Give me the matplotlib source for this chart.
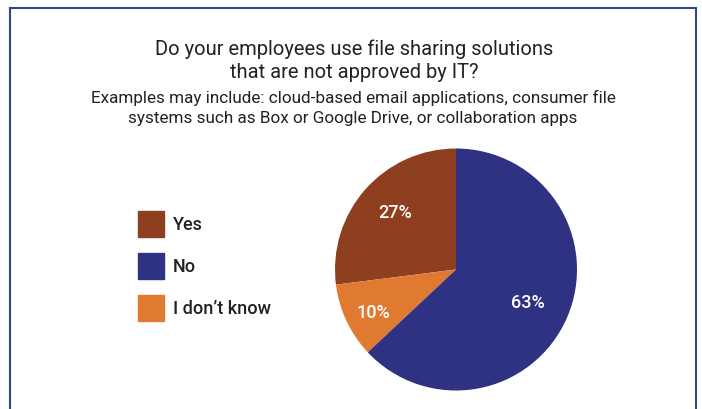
import matplotlib
matplotlib.use("Agg")
import matplotlib.pyplot as plt
from matplotlib.patches import Rectangle

categories = ["Yes", "I don\u2019t know", "No"]
values = [27, 10, 63]
colors = ["#8E3F20", "#E07A30", "#2F3182"]
legend_order = ["Yes", "No", "I don\u2019t know"]

title_lines = ["Do your employees use file sharing solutions", "that are not approved by IT?"]
subtitle_lines = ["Examples may include: cloud-based email applications, consumer file",
                  "systems such as Box or Google Drive, or collaboration apps"]

W, H = 702, 410
fig = plt.figure(figsize=(W/100, H/100), dpi=100)
plt.rcParams['font.family'] = ['Roboto', 'DejaVu Sans']

def fx(px): return px / W
def fy(py): return 1 - py / H

# frame
fig.add_artist(plt.Line2D([fx(10), fx(10)], [fy(9), fy(415)], color="#2C4A8A", lw=1.5))
fig.add_artist(plt.Line2D([fx(10), fx(695.5)], [fy(9), fy(9)], color="#2C4A8A", lw=1.5))
fig.add_artist(plt.Line2D([fx(695.5), fx(695.5)], [fy(9), fy(415)], color="#2C4A8A", lw=1.5))

for i, t in enumerate(title_lines):
    fig.text(fx(354), fy(49 + 24*i), t, ha="center", va="center", fontsize=14.5, color="#222222")
for i, t in enumerate(subtitle_lines):
    fig.text(fx(353), fy(98 + 20*i), t, ha="center", va="center", fontsize=12.3, color="#222222")

# pie
cx, cy, r = 456, 270.5, 121
ax = fig.add_axes([fx(cx - r), fy(cy + r), 2*r/W, 2*r/H])
wedges, texts = ax.pie(values, colors=colors, startangle=90, counterclock=True,
                       wedgeprops=dict(linewidth=0))
ax.set_xlim(-1, 1); ax.set_ylim(-1, 1)
ax.set_aspect("auto")
ax.axis("off")
label_pos = {"Yes": (395, 213), "I don\u2019t know": (373, 313), "No": (528, 303)}
for cat, v in zip(categories, values):
    px, py = label_pos[cat]
    ax.text((px - cx)/r, (cy - py)/r, f"{v}%", ha="center", va="center",
            color="white", fontsize=13, fontweight="medium")

# legend
color_map = dict(zip(categories, colors))
ys = [225, 266.5, 309]
for lab, yc in zip(legend_order, ys):
    fig.add_artist(Rectangle((fx(138), fy(yc + 13)), 26/W, 26/H, color=color_map[lab],
                             transform=fig.transFigure))
    fig.text(fx(173), fy(yc), lab, ha="left", va="center", fontsize=13,
             fontweight="medium", color="#222222")

fig.savefig("out.png", dpi=100)
